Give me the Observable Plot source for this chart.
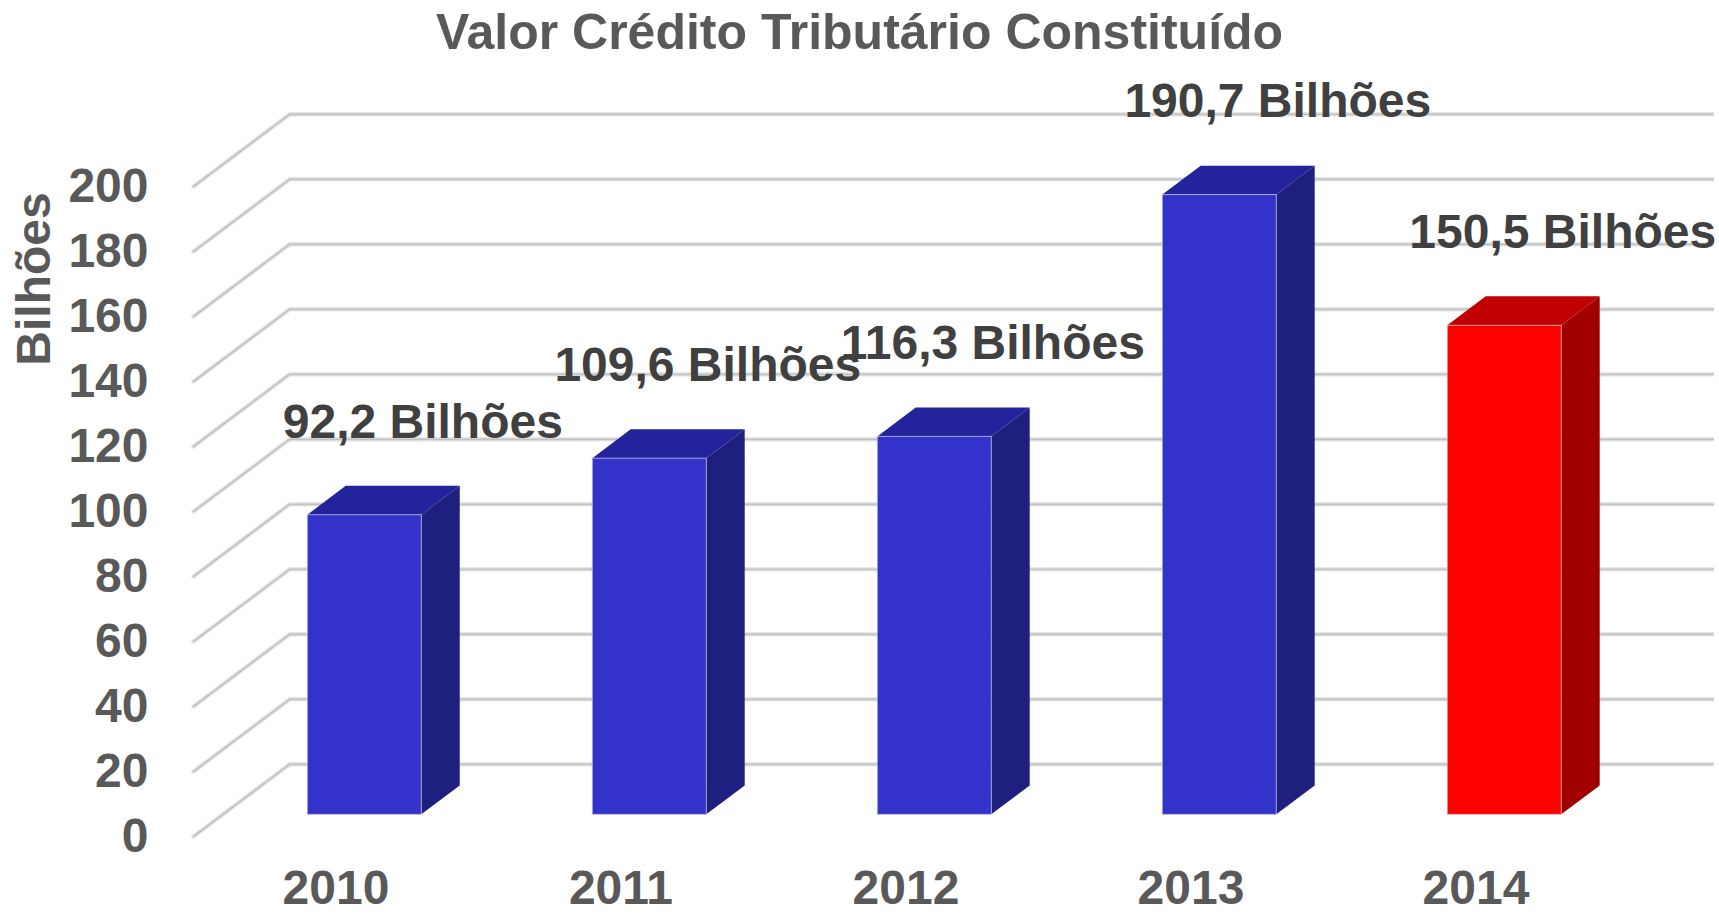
<!DOCTYPE html>
<html>
<head>
<meta charset="utf-8">
<script src="https://cdn.jsdelivr.net/npm/d3@7"></script>
<script src="https://cdn.jsdelivr.net/npm/@observablehq/plot@0.6"></script>
<style>
  body { margin: 0; background: #fff; }
  #wrap { position: relative; width: 1719px; height: 914px; overflow: hidden;
          font-family: "Liberation Sans", Arial, Helvetica, sans-serif; }
  #chart { position: absolute; left: 0; top: 0; }
  #title { position: absolute; left: 0; top: 7px; width: 1719px; margin: 0; text-align: center;
           font-size: 50px; line-height: 50px; font-weight: bold; color: #595959; }
  #ytitle { position: absolute; left: 33.5px; top: 279px; transform: translate(-50%, -50%) rotate(-90deg);
            font-size: 48px; line-height: 48px; font-weight: bold; color: #595959; white-space: nowrap; }
</style>
</head>
<body>
<div id="wrap">
  <div id="chart"></div>
  <div id="title"></div>
  <div id="ytitle"></div>
</div>
<script>
// ---- data ----
const title = "Valor Crédito Tributário Constituído";
const yTitle = "Bilhões";
const years = ["2010", "2011", "2012", "2013", "2014"];
const values = [92.2, 109.6, 116.3, 190.7, 150.5];
const valueLabels = ["92,2 Bilhões", "109,6 Bilhões", "116,3 Bilhões", "190,7 Bilhões", "150,5 Bilhões"];
const yTicks = [0, 20, 40, 60, 80, 100, 120, 140, 160, 180, 200];
const highlightYear = "2014";

// ---- 3D projection (depth expressed in scale units) ----
const DX = 0.337;   // depth offset along x (category slots)
const DY = 22.2;    // depth offset along y (value units)
const Z0 = 0.3, Z1 = 0.7;   // bar depth extent
const W0 = 0.3, W1 = 0.7;   // bar extent inside its slot

const bars = years.map((year, i) => ({year, i, value: values[i], label: valueLabels[i]}));
const isHi = d => d.year === highlightYear;
const frontFill = d => isHi(d) ? "#ff0000" : "#3333cc";
const topFill = d => isHi(d) ? "#c00000" : "#23239b";
const sideFill = d => isHi(d) ? "#a00000" : "#1f1f80";

const front = bars.map(b => ({...b,
  x1: b.i + W0 + Z0 * DX, x2: b.i + W1 + Z0 * DX,
  y1: Z0 * DY, y2: b.value + Z0 * DY}));
const side = bars.flatMap(b => [Z0, Z1].map(z => ({...b,
  x: b.i + W1 + z * DX, y1: z * DY, y2: b.value + z * DY})));
const topFace = bars.flatMap(b => [
  {...b, x: b.i + W0 + Z0 * DX, y1: b.value + Z0 * DY, y2: b.value + Z0 * DY},
  {...b, x: b.i + W0 + Z1 * DX, y1: b.value + Z0 * DY, y2: b.value + Z1 * DY},
  {...b, x: b.i + W1 + Z0 * DX, y1: b.value + Z0 * DY, y2: b.value + Z1 * DY},
  {...b, x: b.i + W1 + Z1 * DX, y1: b.value + Z1 * DY, y2: b.value + Z1 * DY}
]);

const n = years.length;
const gridMarks = (stroke, strokeWidth) => [
  Plot.link(yTicks, {x1: 0, y1: d => d, x2: DX, y2: d => d + DY, stroke, strokeWidth, strokeLinecap: "round"}),
  Plot.ruleY(yTicks, {y: d => d + DY, x1: DX, x2: n + DX, stroke, strokeWidth})
];

const chart = Plot.plot({
  width: 1719,
  height: 914,
  marginLeft: 193,
  marginRight: 5,
  marginTop: 186,
  marginBottom: 78,
  x: {domain: [0, n + DX], axis: null},
  y: {domain: [0, 200], axis: null},
  color: {type: "identity"},
  style: {background: "transparent", fontFamily: "'Liberation Sans', Arial, sans-serif", fontWeight: "bold", overflow: "visible"},
  marks: [
    ...gridMarks("#e6e6e6", 4.5),
    ...gridMarks("#c2c2c2", 1.8),
    Plot.area(side, {x1: "x", y1: "y1", y2: "y2", z: "year", fill: sideFill, curve: "linear"}),
    Plot.area(topFace, {x1: "x", y1: "y1", y2: "y2", z: "year", fill: topFill, curve: "linear"}),
    Plot.rect(front, {x1: "x1", x2: "x2", y1: "y1", y2: "y2", fill: frontFill, stroke: "#c8c8c8", strokeWidth: 1, strokeOpacity: 0.7}),
    Plot.axisY(yTicks, {anchor: "left", tickSize: 0, tickPadding: 45, fontSize: 48, color: "#595959", tickFormat: d => String(d)}),
    Plot.text(bars, {x: d => d.i + 0.5, y: 0, text: "year", dy: 67, lineAnchor: "bottom", fontSize: 48, fill: "#595959"}),
    Plot.text(bars, {x: d => d.i + 0.5 + Z0 * DX, y: d => d.value + Z0 * DY, text: "label", dx: 58, dy: -93, fontSize: 48, fill: "#404040"})
  ]
});

document.getElementById("chart").appendChild(chart);
document.getElementById("title").textContent = title;
document.getElementById("ytitle").textContent = yTitle;
</script>
</body>
</html>
